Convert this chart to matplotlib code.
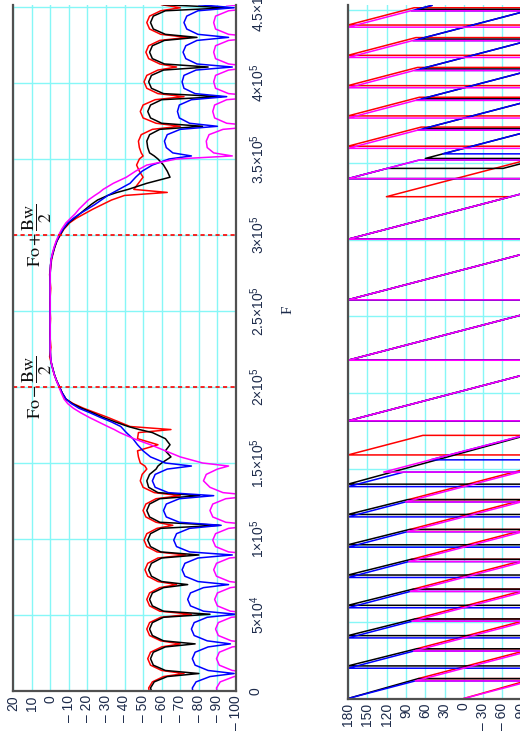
import matplotlib
matplotlib.use("Agg")
import matplotlib.pyplot as plt

plt.rcParams['mathtext.fontset'] = 'stix'

# ---------------- magnitude data (F in kHz, gain in dB) ----------------
F_lo = [0, 2, 6, 9.5, 11.5,
        13.5, 17, 21.25, 25.5, 29, 31,
        33, 36.5, 40.75, 45, 48.5, 50.5,
        52.5, 56, 60.25, 64.5, 68, 70,
        72, 75.5, 79.75, 84, 87.5, 89.5,
        91.5, 95, 99.25, 103.5, 107, 109,
        111, 114.5, 118.75, 123, 126.5, 128.5,
        130.5, 134, 138.25, 142.5, 146, 148,
        150, 154, 158, 162, 166, 170, 172, 174, 177, 180,
        183, 186, 189, 192, 196, 200, 204, 208, 212, 216,
        220, 226, 235, 245, 250]
F_hi = [255, 265, 274, 280, 284, 288, 292, 296, 300, 304, 308, 311,
        314, 317, 320, 323, 326, 328, 330, 334, 338, 342, 346, 350,
        352, 354, 357.5, 361.75, 366, 369.5,
        371.5, 373.5, 377, 381.25, 385.5, 389,
        391, 393, 396.5, 400.75, 405, 408.5,
        410.5, 412.5, 416, 420.25, 424.5, 428,
        430, 432, 435.5, 439.75, 444, 447.5,
        449.5, 451.5]

red_lo = [-53.3, -53, -55, -61, -72,
          -60, -54, -52.5, -54, -60, -70,
          -59.5, -53.5, -52, -53.5, -59.5, -76,
          -59, -53.5, -52, -53.5, -59, -68,
          -58, -52.5, -51, -52.5, -58, -73,
          -57.5, -52, -50.5, -52, -57.5, -66,
          -57, -51.5, -50, -51.5, -57, -70,
          -56, -50, -48.5, -49.5, -52, -51,
          -48.5, -47.5, -47, -58, -47, -47.5, -65, -43, -37, -31,
          -24.5, -18, -12.5, -8.5, -6.5, -5, -3.5, -2.3, -1.4, -0.5,
          0.3, -0.4, 0.2, -0.2, 0]
red_hi = [0.2, -0.3, 0.3, -0.4, -0.8, -1.6, -2.5, -3.6, -5.5, -7.5, -10.5, -14,
          -18.5, -23, -28, -33, -40, -63, -45, -47.5, -50, -48, -46.5, -48,
          -50, -49, -48, -47.5, -49, -55,
          -70, -57, -50, -48.5, -50, -56.5,
          -72, -58, -52, -50.5, -52, -58,
          -68, -59, -53, -51.5, -53, -59,
          -74, -59.5, -53.5, -52, -53.5, -59.5,
          -70, -60]

black_lo = [-54.5, -54, -56, -63, -80,
            -62, -55.5, -54, -55.5, -62, -78,
            -61, -55, -53.5, -55, -61, -86,
            -61, -55, -53.5, -55, -61, -74,
            -60, -54.5, -53, -54.5, -60, -80,
            -59.5, -54, -52.5, -54, -59.5, -91,
            -59, -53.5, -52, -53.5, -59, -80.5,
            -58, -53, -52, -53.5, -57, -58,
            -60, -65, -62, -64.5, -62, -55, -48, -42, -35, -28.5,
            -23, -17, -12, -8.5, -6.5, -5, -3.5, -2.3, -1.4, -0.6,
            -0.2, 0, 0, 0, 0]
black_hi = [0, 0, 0, -0.2, -0.6, -1.4, -2.4, -3.6, -5.3, -7.2, -10, -13,
            -16, -19, -22, -25.5, -31, -36, -42, -52, -64.5, -63, -61, -58,
            -56, -53.5, -52.5, -52, -53.5, -59,
            -82, -60, -54, -52.5, -54, -60,
            -92, -61, -54.5, -53, -54.5, -61,
            -85, -61.5, -55, -53.5, -55, -61.5,
            -79, -62, -55.5, -54, -55.5, -62,
            -96, -61]

blue_lo = [-76.7, -76.5, -78.5, -86, -99,
           -85, -78, -76.5, -78, -85, -97,
           -84.5, -77.5, -76, -77.5, -84.5, -100,
           -82.5, -75.5, -74, -75.5, -82.5, -96,
           -79.5, -72.5, -71, -72.5, -79.5, -98,
           -75, -68, -66.5, -68, -75, -92,
           -69.5, -62.5, -61, -62.5, -69.5, -88,
           -63.5, -56.5, -55, -56.5, -63, -76,
           -62, -54, -50, -47, -44.5, -41, -39.5, -38, -33, -27,
           -21.5, -15.5, -11.5, -8.5, -6.5, -5, -3.5, -2.3, -1.4, -0.6,
           -0.2, 0, 0, 0, 0]
blue_hi = [0, 0, 0, -0.2, -0.6, -1.4, -2.3, -3.5, -5, -7, -9.5, -12.5,
           -16, -20, -24, -27.5, -31, -34, -37, -43, -46, -49.5, -55, -64,
           -76, -66, -62.5, -61.5, -63, -70,
           -90, -75, -69.5, -68.5, -69.5, -76,
           -95, -78, -72, -71, -72, -78.5,
           -98, -79, -73, -71.5, -73, -79,
           -96, -79.5, -73.5, -72, -73.5, -79.5,
           -99, -80]

mag_lo = [-89.7, -89.5, -91.5, -99, -115,
          -98, -91, -89.5, -91, -98, -112,
          -97.5, -90.5, -89, -90.5, -97.5, -115,
          -97, -90, -88.5, -90, -97, -110,
          -96.5, -89.5, -88, -89.5, -96.5, -114,
          -96, -89, -87.5, -89, -96, -112,
          -94.5, -87.5, -86, -87.5, -94.5, -110,
          -93, -86, -82.5, -84, -90, -96,
          -82, -70, -62, -54, -45, -37.5, -34.5, -31, -26, -21,
          -16.5, -12.5, -9.5, -7.5, -6, -4.7, -3.4, -2.2, -1.3, -0.6,
          -0.2, 0, 0, 0, 0]
mag_hi = [0, 0, 0, -0.2, -0.5, -1.2, -2.1, -3.2, -4.6, -6.3, -8.5, -11,
          -13.5, -15.5, -18, -20.5, -24, -26.5, -28.5, -34, -41, -46, -52, -68,
          -98, -88, -84.5, -84, -85.5, -93,
          -112, -95, -88.5, -87.5, -88.5, -95,
          -115, -96, -89, -88, -89, -96,
          -110, -96, -89, -88, -89, -96,
          -113, -96, -89, -88, -89, -96,
          -112, -95]

# ---------------- phase data (F in kHz, phase in degrees) ----------------
pb_F = [181.5, 181.5, 221.1, 221.1, 260.6, 260.6, 300.2, 300.2]
pb_P = [-180, 180, -180, 180, -180, 180, -180, 180]

mag_ph_lo_F = [0, 11.5, 11.5, 31, 31, 50.5, 50.5, 70, 70, 89.5, 89.5, 109, 109,
               128.5, 128.5, 148, 148]
mag_ph_lo_P = [0, -104.6, 75.4, -102.1, 77.9, -99.5, 80.5, -97, 83, -94.5, 85.5,
               -91.9, 88.1, -89.4, 90.6, -86.8, 124.5]
mag_ph_hi_F = [339.8, 339.8, 352, 352, 359.6, 359.6, 371.5, 371.5, 379.4, 379.4,
               391, 391, 399.2, 399.2, 410.5, 410.5, 419, 419, 430, 430,
               438.8, 438.8, 449.5, 449.5, 453]
mag_ph_hi_P = [-180, 180, 69, -111, -180, 180, 71.7, -108.3, -180, 180,
               74.4, -105.6, -180, 180, 77.2, -102.8, -180, 180, 80, -100,
               -180, 180, 82.6, -97.4, -129.3]

blue_ph_lo_F = [0, 11.5, 11.5, 19.8, 19.8, 31, 31, 39.6, 39.6, 50.5, 50.5, 59.3,
                59.3, 70, 70, 79.1, 79.1, 89.5, 89.5, 98.9, 98.9, 109, 109,
                118.7, 118.7, 128.5, 128.5, 138.5, 138.5, 148, 148, 156, 156]
blue_ph_lo_P = [180, 75.4, -104.6, -180, 180, 77.9, -102.1, -180, 180, 80.5,
                -99.5, -180, 180, 83, -97, -180, 180, 85.5, -94.5, -180, 180,
                88.1, -91.9, -180, 180, 90.6, -89.4, -180, 180, 93.2, -86.8,
                -159.6, 51.7]
blue_ph_hi_F = [339.8, 339.8, 352, 352, 356, 356, 371.5, 371.5, 391, 391, 410.5,
                410.5, 430, 430, 449.5, 449.5, 453]
blue_ph_hi_P = [-180, 180, 69, -111, -147.4, 32.6, -108.4, 71.6, -105.9, 74.1,
                -103.4, 76.6, -100.9, 79.1, -98.4, 81.6, 49.8]

red_ph_lo_F = [0, 13, 13, 32.5, 32.5, 52, 52, 71.5, 71.5, 91, 91, 110.5, 110.5,
               130, 130, 159.2, 159.2, 172, 172]
red_ph_lo_P = [0, -109.2, 70.8, -106.7, 73.3, -104.2, 75.8, -101.6, 78.4, -99.1,
               80.9, -96.5, 83.5, -94, 86, -180, 180, 63.5, -93.9]
red_ph_hi_F = [328, 328, 361, 361, 373.5, 373.5, 380.8, 380.8, 393, 393,
               400.6, 400.6, 412.5, 412.5, 420.4, 420.4, 432, 432, 440.2, 440.2,
               451.5, 451.5, 453]
red_ph_hi_P = [-73, 120.3, -180, 180, 66.3, -113.7, -180, 180, 69, -111,
               -180, 180, 71.7, -108.3, -180, 180, 74.4, -105.6, -180, 180,
               77.2, -102.8, -116.5]

black_ph_lo_F = [0, 13, 13, 21.3, 21.3, 32.5, 32.5, 41.1, 41.1, 52, 52, 60.9,
                 60.9, 71.5, 71.5, 80.7, 80.7, 91, 91, 100.5, 100.5, 110.5, 110.5,
                 120.3, 120.3, 130, 130, 140.1, 140.1]
black_ph_lo_P = [180, 70.8, -109.2, -180, 180, 73.5, -106.5, -180, 180, 76.3,
                 -103.7, -180, 180, 79, -101, -180, 180, 81.7, -98.3, -180, 180,
                 84.5, -95.5, -180, 180, 87.2, -92.8, -180, 180]
black_ph_hi_F = [339.8, 339.8, 346.5, 346.5, 353, 353, 372.5, 372.5, 392, 392,
                 411.5, 411.5, 431, 431, 450.5, 450.5, 453]
black_ph_hi_P = [-180, 180, 119, -61, -120.2, 59.8, -117.6, 62.4, -115.1, 64.9,
                 -112.5, 67.5, -110, 70, -107.4, 72.6, 49.8]

# ---------------- axes / labels ----------------
f_ticks = [0, 50, 100, 150, 200, 250, 300, 350, 400, 450]
f_labels = ["0", r"$\mathregular{5{\times}10^{4}}$", r"$\mathregular{1{\times}10^{5}}$",
            r"$\mathregular{1.5{\times}10^{5}}$", r"$\mathregular{2{\times}10^{5}}$",
            r"$\mathregular{2.5{\times}10^{5}}$", r"$\mathregular{3{\times}10^{5}}$",
            r"$\mathregular{3.5{\times}10^{5}}$", r"$\mathregular{4{\times}10^{5}}$",
            r"$\mathregular{4.5{\times}10^{5}}$"]
db_ticks = [20, 10, 0, -10, -20, -30, -40, -50, -60, -70, -80, -90, -100]
ph_ticks = [180, 150, 120, 90, 60, 30, 0, -30, -60, -90, -120, -150, -180]
Fo = 250
Bw = 100


def lab(v):
    return str(v) if v >= 0 else "\u2013 " + str(-v)


W, H = 520, 733
fig = plt.figure(figsize=(W / 100, H / 100), dpi=100)


def rect(x0, x1, y0, y1):
    return [x0 / W, 1 - y1 / H, (x1 - x0) / W, (y1 - y0) / H]


ax1 = fig.add_axes(rect(13, 236, 5, 691))
ax2 = fig.add_axes(rect(348, 579.6, 5, 698.5))

TXT = '#1c2a4a'
GRID = '#86f7f7'
SANS = ['Liberation Sans', 'DejaVu Sans']
for ax in (ax1, ax2):
    for s in ax.spines.values():
        s.set_color('#505050')
        s.set_linewidth(1.6)
    ax.spines['top'].set_visible(False)
    ax.set_axisbelow(True)
    ax.grid(True, color=GRID, lw=1.0)
    ax.tick_params(length=0)

ax1.set_xlim(20, -100)
ax1.set_ylim(0, 451.3)
ax1.set_xticks(db_ticks)
ax1.set_xticklabels([lab(v) for v in db_ticks], rotation=90, color=TXT,
                    fontsize=10, family=SANS)
ax1.tick_params(axis='x', pad=3)
ax1.yaxis.tick_right()
ax1.set_yticks(f_ticks)
ax1.set_yticklabels(f_labels, rotation=90, color=TXT, fontsize=10,
                    family=SANS, va='center')
ax1.tick_params(axis='y', pad=9)

F_all = F_lo + F_hi
lw = 1.1
ax1.plot(red_lo + red_hi, F_all, color='#ff0000', lw=lw)
ax1.plot(black_lo + black_hi, F_all, color='#000000', lw=lw)
ax1.plot(blue_lo + blue_hi, F_all, color='#0000ff', lw=lw)
ax1.plot(mag_lo + mag_hi, F_all, color='#ff00ff', lw=lw)

for fl in (Fo - Bw / 2, Fo + Bw / 2):
    ax1.axhline(fl, color='#ff0000', lw=1.2, ls=(0, (2.5, 2)))
ax1.text(7, Fo + Bw / 2, r'$\mathrm{Fo}+\dfrac{\mathrm{Bw}}{2}$', rotation=90,
         ha='center', va='center', fontsize=13, color='#101010')
ax1.text(7, Fo - Bw / 2, r'$\mathrm{Fo}-\dfrac{\mathrm{Bw}}{2}$', rotation=90,
         ha='center', va='center', fontsize=13, color='#101010')

fig.text(288 / W, 1 - 310 / H, 'F', rotation=90, ha='center', va='center',
         fontsize=11, family=['Liberation Serif', 'DejaVu Serif'], color=TXT)

ax2.set_xlim(180, -180)
ax2.set_ylim(0, 453.3)
ax2.set_xticks(ph_ticks)
ax2.set_xticklabels([lab(v) for v in ph_ticks], rotation=90, color=TXT,
                    fontsize=10, family=SANS)
ax2.tick_params(axis='x', pad=3)
ax2.set_yticks(f_ticks)
ax2.set_yticklabels([])

ax2.plot(red_ph_lo_P + pb_P + red_ph_hi_P, red_ph_lo_F + pb_F + red_ph_hi_F,
         color='#ff0000', lw=lw)
ax2.plot(black_ph_lo_P + pb_P + black_ph_hi_P, black_ph_lo_F + pb_F + black_ph_hi_F,
         color='#000000', lw=lw)
ax2.plot(blue_ph_lo_P + pb_P + blue_ph_hi_P, blue_ph_lo_F + pb_F + blue_ph_hi_F,
         color='#0000ff', lw=lw)
ax2.plot(mag_ph_lo_P + pb_P + mag_ph_hi_P, mag_ph_lo_F + pb_F + mag_ph_hi_F,
         color='#ff00ff', lw=lw)

fig.savefig('out.png', dpi=100)
